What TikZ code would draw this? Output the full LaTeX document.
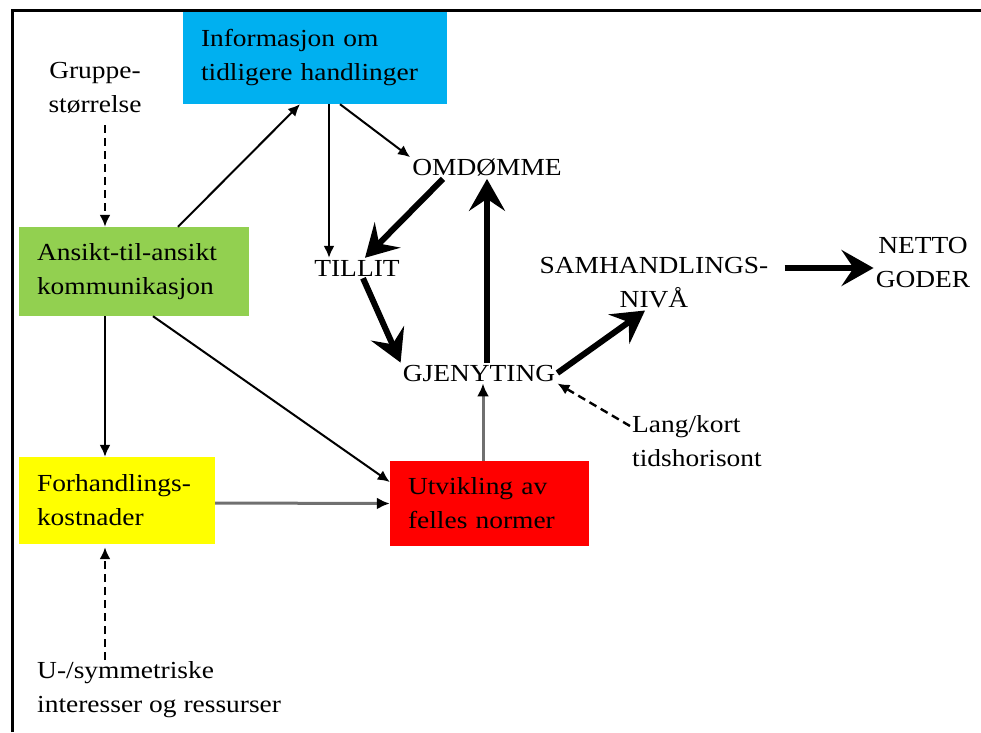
\documentclass[tikz,border=0pt]{standalone}
\usepackage{fontspec}
\setmainfont[FakeStretch=1.12]{Liberation Serif}
\usetikzlibrary{arrows.meta}
\definecolor{infoblue}{HTML}{00B0F0}
\definecolor{kgreen}{HTML}{92D050}
\definecolor{kyellow}{HTML}{FFFF00}
\definecolor{kred}{HTML}{FF0000}
\definecolor{lgray}{HTML}{707070}
\begin{document}
\begin{tikzpicture}[x=1pt,y=-1pt,
  every node/.style={font=\fontsize{24.5}{34}\selectfont, inner sep=2pt},
  box/.style={align=left, inner xsep=18pt, inner ysep=0pt},
  lbl/.style={align=center},
  thin/.style={-{Latex[length=12pt,width=11pt]}, line width=2pt},
  gthin/.style={-{Latex[length=13pt,width=12pt,black]}, line width=3pt, draw=lgray},
  dsh/.style={-{Latex[length=12pt,width=11pt]}, line width=2.4pt, dash pattern=on 8pt off 5pt},
  thk/.style={-{Stealth[length=32pt,width=36pt,inset=12pt]}, line width=6pt}
]
\useasboundingbox (0,0) rectangle (981,732);
\draw[line width=3pt] (12,732) -- (12,10) -- (981,10);

% boxes
\node[box, fill=infoblue, text width=228pt, minimum height=92pt] (info) at (315,58)
  {\mbox{Informasjon om}\\\mbox{tidligere handlinger}};
\node[box, fill=kgreen, text width=194pt, minimum height=89pt] (grn) at (134,271.5)
  {\mbox{Ansikt-til-ansikt}\\\mbox{kommunikasjon}};
\node[box, fill=kyellow, text width=160pt, minimum height=87pt] (yel) at (117,500.5)
  {\mbox{Forhandlings-}\\\mbox{kostnader}};
\node[box, fill=kred, text width=163pt, minimum height=85pt] (red) at (489.5,503.5)
  {\mbox{Utvikling av}\\\mbox{felles normer}};

% plain labels
\node[lbl] (grp) at (95,88) {Gruppe-\\størrelse};
\node (omd) at (487,168) {OMDØMME};
\node (til) at (357,268) {TILLIT};
\node (gje) at (479,373) {GJENYTING};
\node[lbl] (sam) at (654,283) {SAMHANDLINGS-\\NIVÅ};
\node[lbl] (net) at (923,262) {NETTO\\GODER};
\node[align=left, anchor=west] (lang) at (630,441) {Lang/kort\\tidshorisont};
\node[align=left, anchor=west] (usy) at (35,690) {U-/symmetriske\\interesser og ressurser};
\coordinate (usytop) at (105,660);
\coordinate (grpbot) at (105,125);

% thin connectors
\draw[dsh] (grpbot) -- ([xshift=-29pt]grn.north);
\draw[thin] ([xshift=44pt]grn.north) -- ([xshift=-15pt]info.south);
\draw[thin] ([xshift=14pt]info.south) -- ([xshift=-28pt]til.north);
\draw[thin] ([xshift=25pt]info.south) -- (omd.north west);
\draw[thin] ([xshift=-29pt]grn.south) -- ([xshift=-12pt]yel.north);
\draw[thin] ([xshift=19pt]grn.south) -- ([yshift=21.5pt]red.west);
\draw[gthin] ([yshift=-2.5pt]yel.east) -- (red.west);
\draw[gthin] ([xshift=-6.5pt]red.north) -- ([xshift=4pt]gje.south);
\draw[dsh] (usytop) -- ([xshift=-12pt,yshift=-3pt]yel.south);
\draw[dsh] ([yshift=15pt]lang.west) -- (gje.south east);

% thick connectors
\draw[thk] ([xshift=-44pt]omd.south) -- ([xshift=8pt]til.north);
\draw[thk] ([xshift=6pt]til.south) -- (gje.north west);
\draw[thk] (gje.north -| omd.south) -- (omd.south);
\draw[thk] (gje.east) -- ([xshift=-9pt]sam.south);
\draw[thk] ([xshift=14pt,yshift=15pt]sam.east) -- ([yshift=-6pt]net.west);
\end{tikzpicture}
\end{document}
